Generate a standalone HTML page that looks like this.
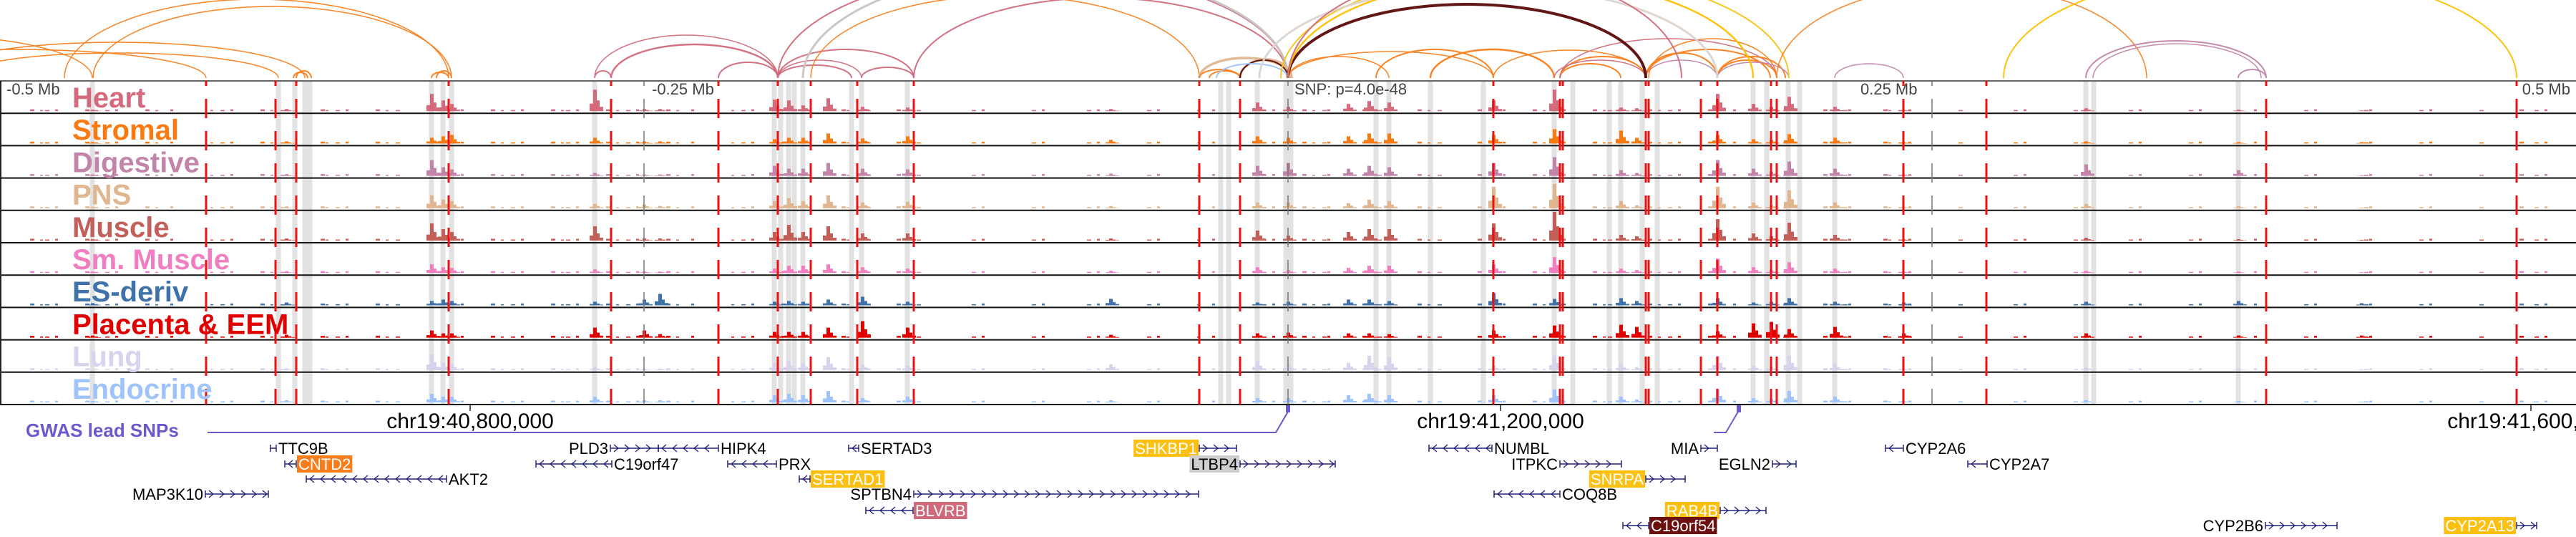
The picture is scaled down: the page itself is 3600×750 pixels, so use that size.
<!DOCTYPE html>
<html><head><meta charset="utf-8"><style>
html,body{margin:0;padding:0;background:#fff;}
svg{display:block;font-family:"Liberation Sans",Arial,sans-serif;}
</style></head><body>
<svg id="chart" width="3600" height="750" viewBox="0 0 3600 750" xmlns="http://www.w3.org/2000/svg">
<g id="arcs"></g>
<g id="bands"></g>
<g id="tracks"></g>
<g id="reds"></g>
<g id="labels"></g>
<g id="axis"></g>
<g id="genes"></g>
</svg>
<script>
const NS="http://www.w3.org/2000/svg";
// ---- data ----
const trackNames=["Heart","Stromal","Digestive","PNS","Muscle","Sm. Muscle","ES-deriv","Placenta & EEM","Lung","Endocrine"];
const trackColors=["#d46a7c","#fa7a12","#c285a9","#dfb690","#c25f59","#f07ec0","#3e72a8","#e00000","#d8d2ec","#9fc3fb"];
const peakPos=[129,400,603,619,631,831,900,922,1082,1102,1122,1157,1205,1268,1552,1757,1800,1884,1913,1941,2087,2172,2265,2287,2400,2450,2475,2500,2564,2660,2915,3128,3300];
const hHeart=[2,3,24,15,10,30,3,3,16,15,8,18,6,5,3,12,6,10,14,12,15,30,5,4,24,10,6,20,6,2,4,2,1];
const hStromal=[2,3,8,10,12,8,3,3,6,8,8,14,7,10,5,10,8,10,14,14,12,20,18,8,12,6,5,13,8,2,3,2,2];
const hDigestive=[2,2,22,12,9,4,2,2,14,10,10,18,10,9,3,14,18,10,14,12,18,26,8,4,22,10,6,20,10,2,16,8,1];
const hPNS=[2,2,18,12,10,6,5,3,10,14,10,18,8,9,3,8,8,7,12,10,30,34,10,4,30,8,5,25,8,2,6,3,1];
const hMuscle=[2,3,24,16,12,20,3,3,12,22,12,20,10,10,3,14,7,12,16,16,24,40,8,6,30,10,6,25,8,2,4,2,1];
const hSmMuscle=[2,2,12,8,7,5,2,2,6,10,10,12,8,6,3,8,4,7,10,10,12,22,6,4,20,8,4,15,6,2,3,2,1];
const hES=[3,4,6,8,6,5,8,16,5,6,5,8,12,5,9,4,5,8,8,6,17,9,10,6,10,4,5,10,5,4,5,6,3];
const hPlacenta=[3,4,10,6,6,14,10,5,8,8,8,14,23,14,4,6,7,6,6,5,10,17,18,15,9,20,22,12,15,6,6,3,3];
const hLung=[1,2,22,10,8,4,2,2,10,12,10,18,8,6,8,12,8,10,20,18,6,20,8,4,20,6,5,20,8,2,4,2,1];
const hEndocrine=[2,3,12,8,8,8,3,3,10,12,10,16,6,8,3,6,6,10,12,10,10,18,8,4,18,6,5,16,8,2,3,2,1];
const trackHeights=[hHeart,hStromal,hDigestive,hPNS,hMuscle,hSmMuscle,hES,hPlacenta,hLung,hEndocrine];
const redLines=[288,385,414,627,854,1004,1087,1133,1198,1277,1676,1733,2087,2180,2184,2300,2304,2377,2400,2475,2483,2660,2776,3167,3517];
const greyBands=[129,389,412,426,433,603,619,631,831,1082,1091,1102,1110,1122,1190,1204,1268,1706,1717,1757,1797,1804,1923,1941,1999,2073,2172,2198,2249,2265,2295,2316,2450,2469,2499,2515,2564,2915,2926,3128];
// arcs: start, end, height, color, width
const arcStart=[-350,-250,-60,-100,410,414,90,130,603,610,831,831,854,1004,1087,1087,1087,1204,1277,1087,1122,1133,1676,1676,1690,1733,1733,1700,1800,1923,1800,1999,2087,2180,2172,2180,2300,2300,2304,2180,2400,2400,2300,2400,1800,1800,1790,1760,1800,2483,2800,2564,2915,2925,3128];
const arcEnd=[129,288,389,426,430,435,627,631,627,631,854,1087,1087,1087,1190,1277,1204,1277,1800,1800,1800,1676,1805,1733,1733,1805,1800,1800,2087,2087,1941,2172,2300,2300,2300,2265,2400,2400,2483,2483,2483,2495,2474,2500,2300,2450,2500,2400,2350,3000,3517,2660,3167,3160,3167];
const arcH=[60,40,35,50,8,10,110,100,8,10,10,60,47,22,18,40,25,15,112,150,150,115,28,12,10,26,25,20,37,40,30,40,39,30,25,20,35,25,55,55,25,30,40,22,103,140,150,128,150,130,150,20,52,48,12];
const arcColor=["#f97d1a","#f97d1a","#f97d1a","#f97d1a","#f97d1a","#f97d1a","#f97d1a","#f97d1a","#f97d1a","#f97d1a","#d06a7b","#d06a7b","#d06a7b","#d06a7b","#d06a7b","#d06a7b","#d06a7b","#d06a7b","#d06a7b","#d06a7b","#c8c4c0","#f97d1a","#dfb690","#f97d1a","#f97d1a","#dfb690","#5a0a0a","#9fc3fb","#f97d1a","#f97d1a","#f97d1a","#f97d1a","#f97d1a","#f97d1a","#d06a7b","#f97d1a","#f97d1a","#c285a9","#f97d1a","#d06a7b","#f97d1a","#f97d1a","#f97d1a","#c285a9","#5a0a0a","#ffc000","#f5c518","#dcd4cc","#d06a7b","#f97d1a","#ffc000","#c285a9","#c285a9","#c285a9","#c285a9"];
const arcW=[1.5,1.5,1.5,1.5,2,2,1.5,1.5,2,2,2,1.5,2.5,2,2,2,1.5,2,2,2,3,1.5,3.5,2,2,3.5,2,2,1.5,2,1.5,2.5,1.5,2,1.5,2,2,1.5,1.5,1.5,2,2,2,1.5,4,2.5,2,3,2,1.5,2,1.5,2,1.5,2];
// genes: name,row,labelSide,lineStart,lineEnd,strand,highlight
const genes=[
["TTC9B",0,"R",378,386,1,null],["PLD3",0,"L",853,920,1,null],["HIPK4",0,"R",920,1004,-1,null],
["SERTAD3",0,"R",1186,1200,-1,null],["SHKBP1",0,"L",1676,1728,1,"#fdc010"],["NUMBL",0,"R",1997,2085,-1,null],
["MIA",0,"L",2377,2400,1,null],["CYP2A6",0,"R",2635,2660,-1,null],
["CNTD2",1,"R",398,414,-1,"#f97d1a"],["C19orf47",1,"R",749,855,-1,null],["PRX",1,"R",1017,1085,-1,null],
["LTBP4",1,"L",1733,1866,1,"#cfcfcf"],["ITPKC",1,"L",2180,2266,1,null],["EGLN2",1,"L",2477,2510,1,null],
["CYP2A7",1,"R",2750,2777,-1,null],
["AKT2",2,"R",428,624,-1,null],["SERTAD1",2,"R",1117,1132,-1,"#fdc010"],["SNRPA",2,"L",2300,2355,1,"#fdc010"],
["MAP3K10",3,"L",287,375,1,null],["SPTBN4",3,"L",1277,1675,1,null],["COQ8B",3,"R",2088,2180,-1,null],
["BLVRB",4,"R",1210,1276,-1,"#d06a7b"],["RAB4B",4,"L",2404,2468,1,"#fdc010"],
["C19orf54",5,"R",2268,2304,-1,"#6b0f0f"],["CYP2B6",5,"L",3166,3266,1,null],["CYP2A13",5,"L",3517,3545,1,"#fdc010"]
];
// ---- layout ----
const T0=113, TH=45.2, NT=10, BOT=T0+TH*NT;
const ARC_BASE=109;
const rowY=[626,648,669,690,713,734];
const kbToX=kb=>1800+3.6*kb;
function mk(tag,attrs,parent){const e=document.createElementNS(NS,tag);for(const k in attrs)e.setAttribute(k,attrs[k]);parent.appendChild(e);return e;}
const gArcs=document.getElementById("arcs"),gBands=document.getElementById("bands"),gTracks=document.getElementById("tracks"),
gReds=document.getElementById("reds"),gLabels=document.getElementById("labels"),gAxis=document.getElementById("axis"),gGenes=document.getElementById("genes");
// arcs
for(let i=0;i<arcStart.length;i++){
  const x1=arcStart[i],x2=arcEnd[i],rx=(x2-x1)/2,ry=arcH[i];
  const p=mk("path",{d:`M${x1},${ARC_BASE} A${rx},${ry} 0 0 1 ${x2},${ARC_BASE}`,fill:"none",stroke:arcColor[i],"stroke-width":arcW[i],opacity:0.95},gArcs);
  
  
}
// bands
greyBands.forEach(x=>{
  const r=mk("rect",{x:x-3.5,y:T0,width:7,height:BOT-T0,fill:"#e2e2e2"},gBands);
  
  
});
// tracks
for(let t=0;t<NT;t++){
  const top=T0+t*TH, base=top+TH-3;
  const g=mk("g",{},gTracks);
  
  
  const col=trackColors[t];
  // background texture
  for(let x=14;x<3590;x+=7){
    const v=(x*37+t*13+(x>>3)*7)%13;
    const sparse=(x>1290&&x<1660)||(x>2700&&x<3500);
    if(v<(sparse?2:4)){
      mk("rect",{x:x,y:base-(v%3===0?2.5:1.5),width:(v%2?6:4),height:(v%3===0?2.5:1.5),fill:col},g);
    }
  }
  const hs=trackHeights[t];
  peakPos.forEach((x,i)=>{
    const h=hs[i];
    const b=mk("rect",{x:x-2,y:base-h,width:5,height:h,fill:col},g);
    
    
    mk("rect",{x:x-7,y:base-h*0.35,width:5,height:h*0.35,fill:col},g);
    mk("rect",{x:x+3,y:base-h*0.5,width:4,height:h*0.5,fill:col},g);
    mk("rect",{x:x+7,y:base-h*0.2,width:5,height:h*0.2,fill:col},g);
  });
  const sep=mk("line",{x1:0,x2:3600,y1:top+TH,y2:top+TH,stroke:"#111","stroke-width":2},gTracks);
  
  
  const lab=mk("text",{x:101,y:top+37,fill:col,"font-size":40,"font-weight":"bold"},gLabels);
  lab.textContent=trackNames[t];
  
  
}
// frame
mk("line",{x1:0,x2:3600,y1:T0,y2:T0,stroke:"#666","stroke-width":2},gTracks);
mk("line",{x1:1,x2:1,y1:T0,y2:BOT,stroke:"#222","stroke-width":2},gTracks);
// grey dashed ticks & SNP
[900,2700,1800].forEach(x=>{
  const l=mk("line",{x1:x,x2:x,y1:T0,y2:BOT,stroke:"#777","stroke-width":1.5,"stroke-dasharray":"27 18","stroke-dashoffset":20},gReds);
  
  
});
redLines.forEach(x=>{
  const l=mk("line",{x1:x,x2:x,y1:T0,y2:BOT,stroke:"#ee1111","stroke-width":3,"stroke-dasharray":"27 18","stroke-dashoffset":20},gReds);
  
  
});
// offset labels
[["-0.5 Mb",9,"start"],["-0.25 Mb",911,"start"],["SNP: p=4.0e-48",1809,"start"],["0.25 Mb",2600,"start"],["0.5 Mb",3592,"end"]].forEach(a=>{
  const t=mk("text",{x:a[1],y:132,"font-size":22,fill:"#444","text-anchor":a[2]},gAxis);
  t.textContent=a[0];
  
  
});
// axis
[[40800,"chr19:40,800,000"],[41200,"chr19:41,200,000"],[41600,"chr19:41,600,000"]].forEach(a=>{
  const x=kbToX(a[0]-41117.5);
  mk("line",{x1:x,x2:x,y1:BOT,y2:BOT+9,stroke:"#222","stroke-width":1.5},gAxis);
  const t=mk("text",{x:x,y:598,"font-size":30,fill:"#000","text-anchor":"middle"},gAxis);
  t.textContent=a[1];
  
  
});
// GWAS
const gw=mk("text",{x:36,y:610,"font-size":26,"font-weight":"bold",fill:"#6a5acd"},gAxis);
gw.textContent="GWAS lead SNPs";


mk("polyline",{points:"290,604 1783,604 1800,575",fill:"none",stroke:"#6a5acd","stroke-width":2},gAxis);
mk("polyline",{points:"2395,604 2412,604 2429,575",fill:"none",stroke:"#6a5acd","stroke-width":2},gAxis);
[1800,2430].forEach(x=>{
  const r=mk("rect",{x:x-3,y:566,width:6,height:10,fill:"#6a5acd"},gAxis);
  
  
});
// genes
genes.forEach(gd=>{
  const [name,row,side,x1,x2,dir,hl]=gd;
  const y=rowY[row];
  const g=mk("g",{},gGenes);
  
  
  mk("line",{x1:x1,x2:x2,y1:y,y2:y,stroke:"#22227a","stroke-width":1.5},g);
  for(let x=x1+8;x<x2-4;x+=15){
    const d=dir>0?`M${x-3},${y-5} L${x+3},${y} L${x-3},${y+5}`:`M${x+3},${y-5} L${x-3},${y} L${x+3},${y+5}`;
    mk("path",{d:d,fill:"none",stroke:"#22227a","stroke-width":1.3},g);
  }
  mk("line",{x1:x1,x2:x1,y1:y-5,y2:y+5,stroke:"#22227a","stroke-width":1.5},g);
  mk("line",{x1:x2,x2:x2,y1:y-5,y2:y+5,stroke:"#22227a","stroke-width":1.5},g);
  const tx=side==="L"?x1-3:x2+3;
  const t=mk("text",{x:tx,y:y+8,"font-size":22,fill:hl?(hl==="#cfcfcf"?"#000":"#fff"):"#000","text-anchor":side==="L"?"end":"start"},g);
  t.textContent=name;
  if(hl){
    const w=t.getComputedTextLength()+4;
    const bx=side==="L"?tx-w+2:tx-2;
    const r=document.createElementNS(NS,"rect");
    r.setAttribute("x",bx);r.setAttribute("y",y-12);r.setAttribute("width",w);r.setAttribute("height",24);r.setAttribute("fill",hl);
    g.insertBefore(r,t);
  }
});
</script>
</body></html>
